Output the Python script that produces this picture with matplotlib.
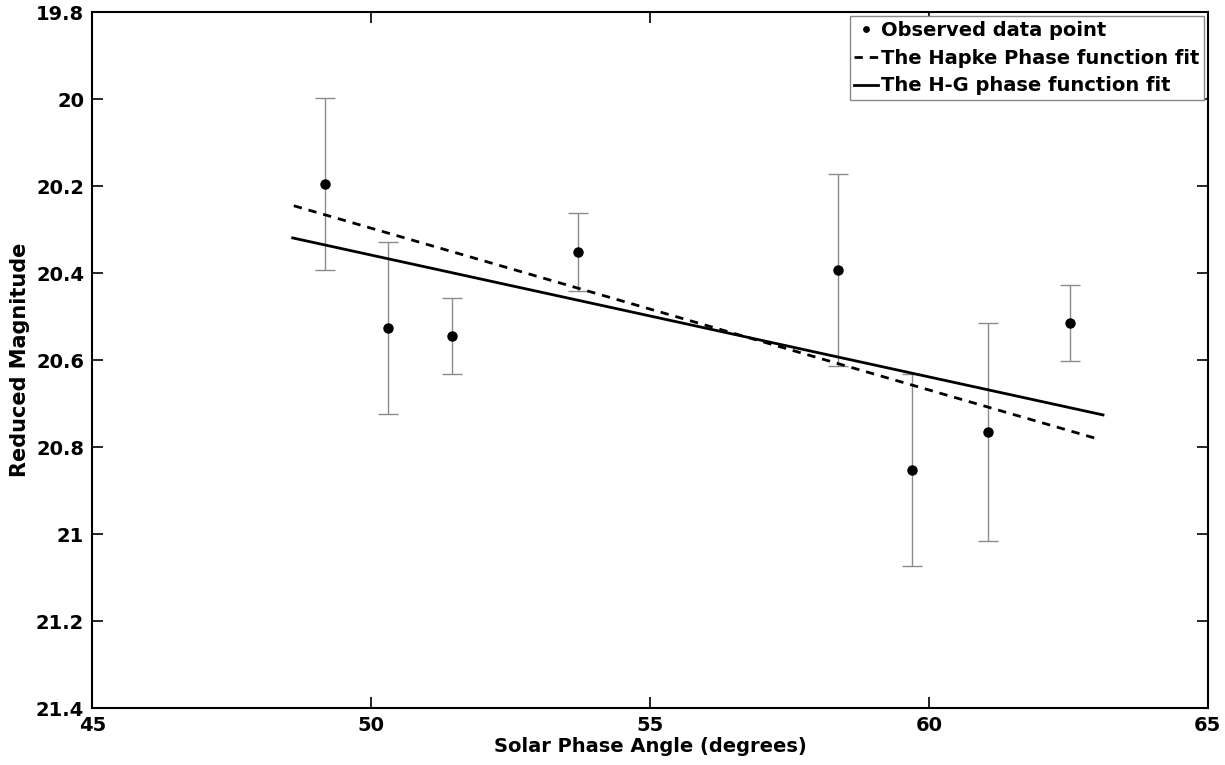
import numpy as np
import matplotlib.pyplot as plt

# observed points (phase angle, reduced magnitude, 1-sigma error)
phase = [49.17, 50.29, 51.44, 53.71, 58.36, 59.70, 61.05, 62.52]
mag = [20.195, 20.526, 20.545, 20.352, 20.393, 20.853, 20.765, 20.515]
mag_err = [0.198, 0.197, 0.088, 0.090, 0.220, 0.220, 0.250, 0.088]

# fitted curves
hapke_x = [48.61, 63.02]
hapke_y = [20.245, 20.781]
hg_x = [48.59, 63.12]
hg_y = [20.319, 20.726]

plt.rcParams['font.family'] = 'DejaVu Sans'
plt.rcParams['font.weight'] = 'bold'

fig = plt.figure(figsize=(12.25, 7.65), dpi=100)
ax = fig.add_axes([0.0755, 0.0745, 0.9105, 0.9095])

ax.errorbar(phase, mag, yerr=mag_err, fmt='none', ecolor='#8c8c8c',
            elinewidth=1.0, capsize=7, capthick=1.0, zorder=2)
ax.plot(phase, mag, 'o', color='black', markersize=6.5,
        label='Observed data point', zorder=3)
ax.plot(hapke_x, hapke_y, color='black', linewidth=2, dashes=(3, 2.5),
        label='The Hapke Phase function fit')
ax.plot(hg_x, hg_y, color='black', linewidth=2,
        label='The H-G phase function fit')

ax.set_xlim(45, 65)
ax.set_ylim(21.4, 19.8)
ax.set_xticks([45, 50, 55, 60, 65])
yt = [19.8, 20, 20.2, 20.4, 20.6, 20.8, 21, 21.2, 21.4]
ax.set_yticks(yt)
ax.set_yticklabels(['%g' % v for v in yt])

ax.tick_params(direction='in', length=8, width=1.2, top=True, right=True,
               labelsize=14, pad=6)
for lab in ax.get_xticklabels() + ax.get_yticklabels():
    lab.set_fontweight('bold')
for sp in ax.spines.values():
    sp.set_linewidth(1.5)

ax.set_xlabel('Solar Phase Angle (degrees)', fontsize=14, fontweight='bold',
              labelpad=1)
ax.set_ylabel('Reduced Magnitude', fontsize=15, fontweight='bold', labelpad=4)

leg = ax.legend(loc='upper right', handlelength=1.2,
                handletextpad=0.15, borderaxespad=0.2, borderpad=0.25,
                labelspacing=0.45, fancybox=False, framealpha=1,
                edgecolor='#888888', prop={'weight': 'bold', 'size': 14},
                markerscale=0.6)
leg.get_frame().set_linewidth(1.0)

fig.savefig('out.png', dpi=100)
